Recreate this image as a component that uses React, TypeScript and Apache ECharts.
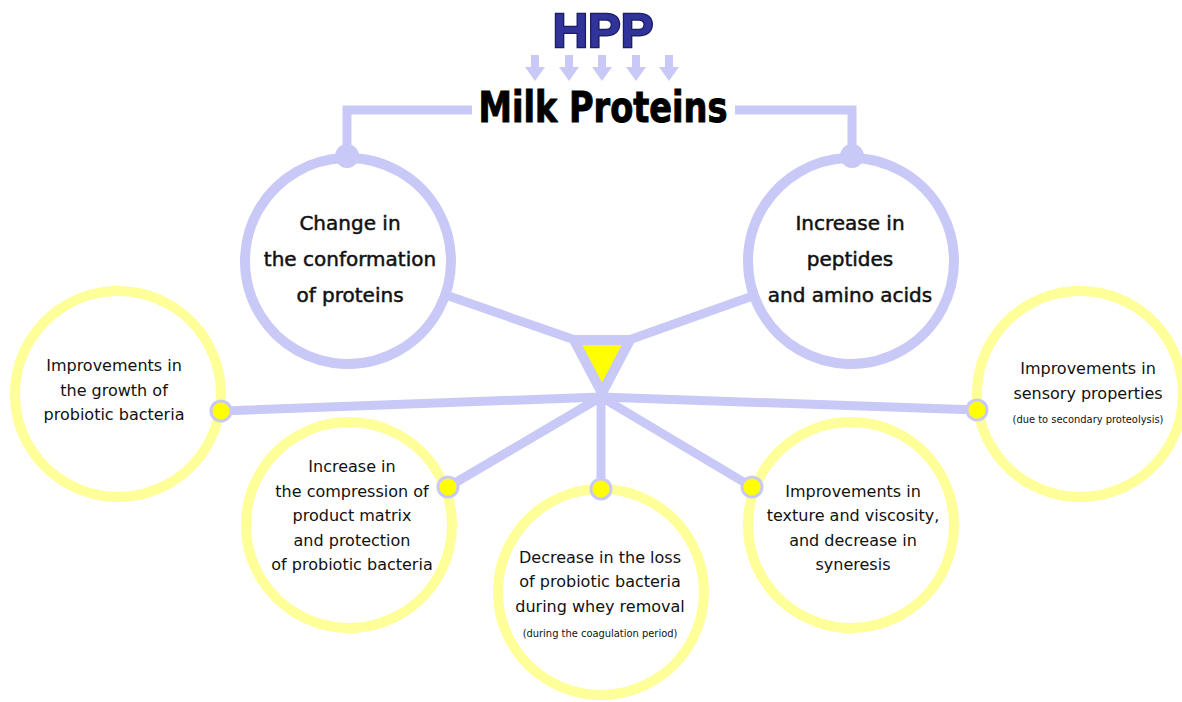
import React, { useEffect, useRef } from "react";
import * as echarts from "echarts";

// ---- content ----
const topTitle = "HPP";
const mainTitle = "Milk Proteins";
const proteinEffects: string[][] = [
  ["Change in", "the conformation", "of proteins"],
  ["Increase in", "peptides", "and amino acids"],
];
const outcomeLabels: string[][] = [
  ["Improvements in", "the growth of", "probiotic bacteria"],
  ["Increase in", "the compression of", "product matrix", "and protection", "of probiotic bacteria"],
  ["Decrease in the loss", "of probiotic bacteria", "during whey removal"],
  ["Improvements in", "texture and viscosity,", "and decrease in", "syneresis"],
  ["Improvements in", "sensory properties"],
];
const outcomeNotes: string[] = [
  "",
  "",
  "(during the coagulation period)",
  "",
  "(due to secondary proteolysis)",
];

// ---- layout (styles / geometry) ----
const LAV = "#c9c9f7";
const YEL = "#ffff99";
const DOT = "#ffff00";
const FONT = '"DejaVu Sans", Verdana, sans-serif';
const NOTE_FONT = '"DejaVu Sans Condensed", "Liberation Sans Narrow", sans-serif';

const topCircles = [
  { cx: 348, cy: 261, r: 103, tx: 350, ty: 259, join: [347, 156], bracket: [[472, 110], [347, 110], [347, 160]], tri: [578, 341] },
  { cx: 851, cy: 261, r: 103, tx: 850, ty: 259, join: [852, 156], bracket: [[735, 110], [852, 110], [852, 160]], tri: [626, 341] },
];
const hub = [601, 397];
const outCircles = [
  { cx: 118, cy: 394, r: 103, tx: 114, ty: 390, dot: [221, 411], noteY: 0 },
  { cx: 349, cy: 525, r: 103, tx: 352, ty: 515.5, dot: [448, 487], noteY: 0 },
  { cx: 601, cy: 592, r: 103, tx: 600, ty: 581.5, dot: [601, 489], noteY: 633 },
  { cx: 851, cy: 525, r: 103, tx: 853, ty: 528, dot: [752, 487], noteY: 0 },
  { cx: 1080, cy: 394, r: 103, tx: 1088, ty: 381, dot: [977, 410], noteY: 419 },
];
const arrowXs = [535, 569, 602, 636, 669];
const triangle = [[574, 340], [630, 340], [602, 393]];

export default function App() {
  const ref = useRef<HTMLDivElement>(null);
  useEffect(() => {
    if (!ref.current) return;
    const chart = echarts.init(ref.current, undefined, { renderer: "svg" });
    const els: any[] = [];

    // arrows under HPP
    arrowXs.forEach((x) => {
      els.push({ type: "rect", shape: { x: x - 4, y: 55, width: 8, height: 14 }, style: { fill: LAV } });
      els.push({ type: "polygon", shape: { points: [[x - 10, 67], [x + 10, 67], [x, 81]] }, style: { fill: LAV } });
    });

    // brackets and lines to triangle
    topCircles.forEach((c) => {
      els.push({ type: "polyline", shape: { points: c.bracket }, style: { stroke: LAV, lineWidth: 9, fill: "none" } });
      els.push({ type: "line", shape: { x1: c.cx, y1: c.cy, x2: c.tri[0], y2: c.tri[1] }, style: { stroke: LAV, lineWidth: 9 } });
    });

    // radial lines from hub
    outCircles.forEach((c) => {
      els.push({ type: "line", shape: { x1: hub[0], y1: hub[1], x2: c.dot[0], y2: c.dot[1] }, style: { stroke: LAV, lineWidth: 9, lineCap: "round" } });
    });

    // top circles
    topCircles.forEach((c, i) => {
      els.push({ type: "circle", shape: { cx: c.cx, cy: c.cy, r: c.r }, style: { fill: "#fff", stroke: LAV, lineWidth: 10 } });
      els.push({ type: "circle", shape: { cx: c.join[0], cy: c.join[1], r: 12 }, style: { fill: LAV } });
      els.push({
        type: "text",
        style: {
          x: c.tx, y: c.ty, text: proteinEffects[i].join("\n"), align: "center", verticalAlign: "middle",
          fontSize: 20, lineHeight: 36, fontFamily: FONT, fill: "#111", stroke: "#111", lineWidth: 0.5,
        },
      });
    });

    // outcome circles
    outCircles.forEach((c, i) => {
      els.push({ type: "circle", shape: { cx: c.cx, cy: c.cy, r: c.r }, style: { fill: "#fff", stroke: YEL, lineWidth: 10 } });
      els.push({
        type: "text",
        style: {
          x: c.tx, y: c.ty, text: outcomeLabels[i].join("\n"), align: "center", verticalAlign: "middle",
          fontSize: 16, lineHeight: 24.5, fontFamily: FONT, fill: "#111",
        },
      });
      if (outcomeNotes[i]) {
        els.push({
          type: "text",
          style: {
            x: c.tx, y: c.noteY, text: outcomeNotes[i], align: "center", verticalAlign: "middle",
            fontSize: 11, fontFamily: NOTE_FONT, fill: "#111",
          },
        });
      }
    });

    // dots
    outCircles.forEach((c) => {
      els.push({ type: "circle", shape: { cx: c.dot[0], cy: c.dot[1], r: 10 }, style: { fill: DOT, stroke: LAV, lineWidth: 3 } });
    });

    // triangle
    els.push({
      type: "polygon",
      shape: { points: triangle },
      style: { fill: DOT, stroke: LAV, lineWidth: 10, lineJoin: "round" },
    });

    // titles
    els.push({
      type: "text",
      x: 603, y: 30,
      style: {
        x: 0, y: 0, text: topTitle, align: "center", verticalAlign: "middle",
        fontSize: 49, fontWeight: "bold", fontFamily: '"Liberation Sans", Arial, sans-serif',
        fill: "#30339a", stroke: "#1c1c5e", lineWidth: 2.5,
      },
    });
    els.push({
      type: "text",
      x: 603, y: 108,
      scaleX: 0.8,
      style: {
        x: 0, y: 0, text: mainTitle, align: "center", verticalAlign: "middle",
        fontSize: 42, fontWeight: "bold", fontFamily: FONT, fill: "#000", stroke: "#000", lineWidth: 1,
      },
    });

    chart.setOption({ animation: false, graphic: { elements: els } });
    return () => chart.dispose();
  }, []);
  return (
    <div
      ref={ref}
      style={{ position: "fixed", left: 0, top: 0, width: 1182, height: 702, background: "#fff" }}
    />
  );
}
